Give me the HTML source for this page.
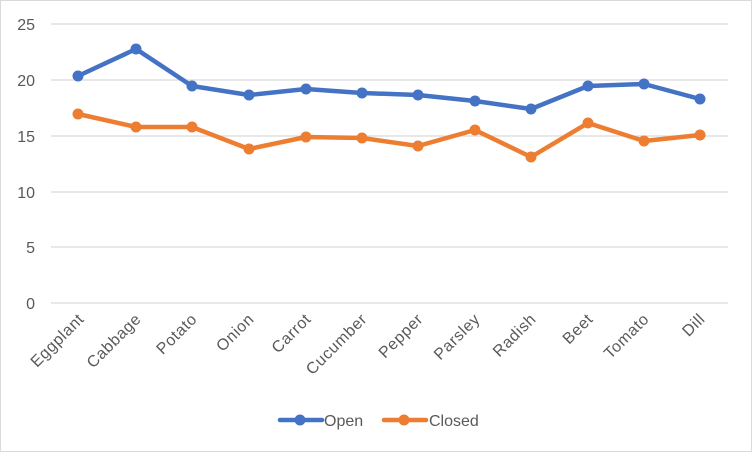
<!DOCTYPE html>
<html><head><meta charset="utf-8"><style>
html,body{margin:0;padding:0;background:#fff}
svg{display:block;font-family:"Liberation Sans",sans-serif}
</style></head><body>
<svg width="752" height="452" viewBox="0 0 752 452">
<rect x="0.5" y="0.5" width="751" height="451" fill="#fff" stroke="#d9d9d9"/>
<g stroke="#d9d9d9" stroke-width="1.3">
<line x1="51" x2="728" y1="24" y2="24"/><line x1="51" x2="728" y1="80" y2="80"/>
<line x1="51" x2="728" y1="136" y2="136"/><line x1="51" x2="728" y1="192" y2="192"/>
<line x1="51" x2="728" y1="247" y2="247"/><line x1="51" x2="728" y1="303" y2="303"/>
</g>
<g fill="#595959" font-size="16" text-anchor="end">
<text x="35" y="30">25</text><text x="35" y="86">20</text><text x="35" y="142">15</text>
<text x="35" y="198">10</text><text x="35" y="253">5</text><text x="35" y="309">0</text>
</g>
<g fill="#595959" font-size="16" letter-spacing="0.6" text-anchor="end">
<text transform="translate(85,320) rotate(-45)">Eggplant</text>
<text transform="translate(142,320) rotate(-45)">Cabbage</text>
<text transform="translate(198,320) rotate(-45)">Potato</text>
<text transform="translate(255,320) rotate(-45)">Onion</text>
<text transform="translate(312,320) rotate(-45)">Carrot</text>
<text transform="translate(368,320) rotate(-45)">Cucumber</text>
<text transform="translate(424,320) rotate(-45)">Pepper</text>
<text transform="translate(481,320) rotate(-45)">Parsley</text>
<text transform="translate(537,320) rotate(-45)">Radish</text>
<text transform="translate(594,320) rotate(-45)">Beet</text>
<text transform="translate(650,320) rotate(-45)">Tomato</text>
<text transform="translate(706,320) rotate(-45)">Dill</text>
</g>
<g fill="#4472c4">
<polyline fill="none" stroke="#4472c4" stroke-width="4.5" stroke-linejoin="round" points="78,76 136,49 192,86 249,95 306,89 362,93 418,95 475,101 531,109 588,86 644,84 700,99"/>
<circle cx="78" cy="76" r="5.5"/><circle cx="136" cy="49" r="5.5"/><circle cx="192" cy="86" r="5.5"/><circle cx="249" cy="95" r="5.5"/><circle cx="306" cy="89" r="5.5"/><circle cx="362" cy="93" r="5.5"/><circle cx="418" cy="95" r="5.5"/><circle cx="475" cy="101" r="5.5"/><circle cx="531" cy="109" r="5.5"/><circle cx="588" cy="86" r="5.5"/><circle cx="644" cy="84" r="5.5"/><circle cx="700" cy="99" r="5.5"/>
</g>
<g fill="#ed7d31">
<polyline fill="none" stroke="#ed7d31" stroke-width="4.5" stroke-linejoin="round" points="78,114 136,127 192,127 249,149 306,137 362,138 418,146 475,130 531,157 588,123 644,141 700,135"/>
<circle cx="78" cy="114" r="5.5"/><circle cx="136" cy="127" r="5.5"/><circle cx="192" cy="127" r="5.5"/><circle cx="249" cy="149" r="5.5"/><circle cx="306" cy="137" r="5.5"/><circle cx="362" cy="138" r="5.5"/><circle cx="418" cy="146" r="5.5"/><circle cx="475" cy="130" r="5.5"/><circle cx="531" cy="157" r="5.5"/><circle cx="588" cy="123" r="5.5"/><circle cx="644" cy="141" r="5.5"/><circle cx="700" cy="135" r="5.5"/>
</g>
<line x1="280" x2="322" y1="420" y2="420" stroke="#4472c4" stroke-width="4.5" stroke-linecap="round"/>
<circle cx="300" cy="420" r="5.5" fill="#4472c4"/>
<text x="324" y="426" font-size="16" fill="#595959">Open</text>
<line x1="384" x2="426" y1="420" y2="420" stroke="#ed7d31" stroke-width="4.5" stroke-linecap="round"/>
<circle cx="404" cy="420" r="5.5" fill="#ed7d31"/>
<text x="429" y="426" font-size="16" fill="#595959">Closed</text>
</svg>
</body></html>
